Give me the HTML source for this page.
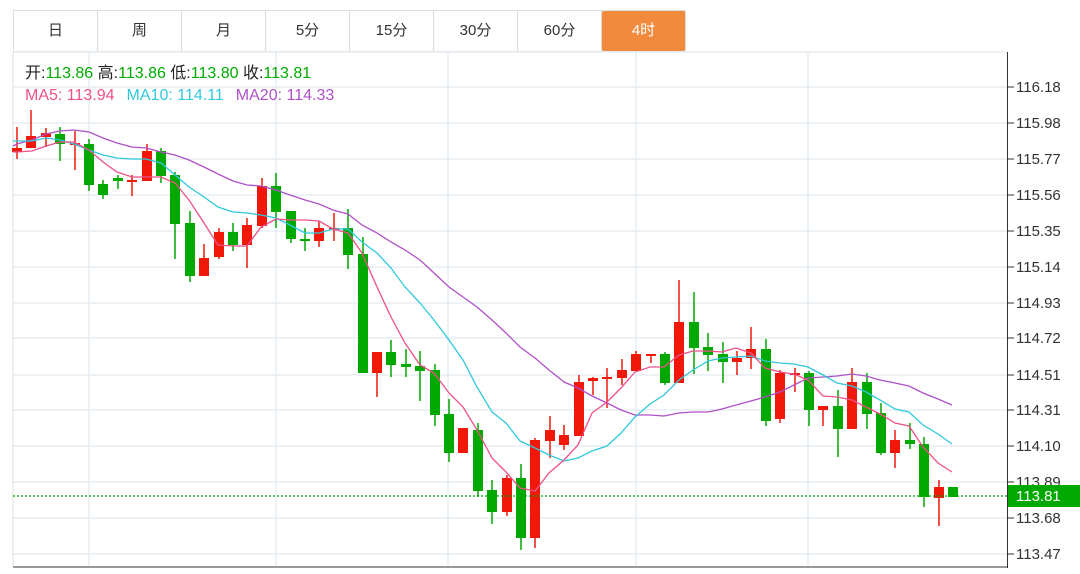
<!DOCTYPE html>
<html><head><meta charset="utf-8"><style>
body{margin:0;background:#fff;width:1080px;height:574px;overflow:hidden;font-family:"Liberation Sans","Noto Sans CJK SC",sans-serif}
.tabs{position:absolute;left:13px;top:10px;height:42px;display:flex;border:1px solid #ddd;border-right:none;box-sizing:border-box}
.tabs div{width:83px;border-right:1px solid #ddd;text-align:center;line-height:40px;font-size:15px;color:#333}
.tabs .on{background:#f28a3e;color:#fff;border-radius:2px}
</style></head><body>
<div class="tabs"><div>日</div><div>周</div><div>月</div><div>5分</div><div>15分</div><div>30分</div><div>60分</div><div class="on">4时</div></div>
<svg width="1080" height="574" style="position:absolute;left:0;top:0" font-family="Liberation Sans, Noto Sans CJK SC, sans-serif">
<g stroke="#e5edf4" stroke-width="1.5">
<line x1="13" x2="1007" y1="52" y2="52"/>
<line x1="13" x2="1007" y1="87" y2="87"/><line x1="13" x2="1007" y1="123" y2="123"/><line x1="13" x2="1007" y1="159" y2="159"/><line x1="13" x2="1007" y1="195" y2="195"/><line x1="13" x2="1007" y1="231" y2="231"/><line x1="13" x2="1007" y1="267" y2="267"/><line x1="13" x2="1007" y1="303" y2="303"/><line x1="13" x2="1007" y1="338" y2="338"/><line x1="13" x2="1007" y1="375" y2="375"/><line x1="13" x2="1007" y1="410" y2="410"/><line x1="13" x2="1007" y1="446" y2="446"/><line x1="13" x2="1007" y1="482" y2="482"/><line x1="13" x2="1007" y1="518" y2="518"/><line x1="13" x2="1007" y1="554" y2="554"/>
<line x1="89" x2="89" y1="52" y2="566"/><line x1="276" x2="276" y1="52" y2="566"/><line x1="448" x2="448" y1="52" y2="566"/><line x1="636" x2="636" y1="52" y2="566"/><line x1="808" x2="808" y1="52" y2="566"/>
</g>
<line x1="13" x2="13" y1="52" y2="566" stroke="#ddd"/>
<line x1="1007.5" x2="1007.5" y1="52" y2="568" stroke="#333"/>
<line x1="13" x2="1007" y1="567" y2="567" stroke="#333"/>
<g stroke="#333"><line x1="1008" x2="1014" y1="87" y2="87"/><line x1="1008" x2="1014" y1="123" y2="123"/><line x1="1008" x2="1014" y1="159" y2="159"/><line x1="1008" x2="1014" y1="195" y2="195"/><line x1="1008" x2="1014" y1="231" y2="231"/><line x1="1008" x2="1014" y1="267" y2="267"/><line x1="1008" x2="1014" y1="303" y2="303"/><line x1="1008" x2="1014" y1="338" y2="338"/><line x1="1008" x2="1014" y1="375" y2="375"/><line x1="1008" x2="1014" y1="410" y2="410"/><line x1="1008" x2="1014" y1="446" y2="446"/><line x1="1008" x2="1014" y1="482" y2="482"/><line x1="1008" x2="1014" y1="518" y2="518"/><line x1="1008" x2="1014" y1="554" y2="554"/></g>
<g font-size="15" fill="#333">
<text x="1016" y="92">116.18</text><text x="1016" y="128">115.98</text><text x="1016" y="164">115.77</text><text x="1016" y="200">115.56</text><text x="1016" y="236">115.35</text><text x="1016" y="272">115.14</text><text x="1016" y="308">114.93</text><text x="1016" y="343">114.72</text><text x="1016" y="380">114.51</text><text x="1016" y="415">114.31</text><text x="1016" y="451">114.10</text><text x="1016" y="487">113.89</text><text x="1016" y="523">113.68</text><text x="1016" y="559">113.47</text>
</g>
<g font-size="16">
<text x="25" y="78" fill="#222">开:<tspan fill="#0a0">113.86</tspan>  高:<tspan fill="#0a0">113.86</tspan>  低:<tspan fill="#0a0">113.80</tspan>  收:<tspan fill="#0a0">113.81</tspan></text>
<text x="25" y="100"><tspan fill="#f0508a">MA5: 113.94</tspan><tspan fill="#30c8dc" dx="12">MA10: 114.11</tspan><tspan fill="#b050c8" dx="12">MA20: 114.33</tspan></text>
</g>
<g stroke="#00a800" stroke-width="1.5">
<line x1="60" x2="60" y1="127" y2="161"/><line x1="89" x2="89" y1="139" y2="191"/><line x1="103" x2="103" y1="180" y2="199"/><line x1="118" x2="118" y1="175" y2="189"/><line x1="161" x2="161" y1="148" y2="183"/><line x1="175" x2="175" y1="172" y2="259"/><line x1="190" x2="190" y1="211" y2="282"/><line x1="233" x2="233" y1="223" y2="251"/><line x1="276" x2="276" y1="173" y2="228"/><line x1="291" x2="291" y1="211" y2="243"/><line x1="305" x2="305" y1="228" y2="251"/><line x1="348" x2="348" y1="209" y2="269"/><line x1="363" x2="363" y1="237" y2="373"/><line x1="391" x2="391" y1="340" y2="377"/><line x1="406" x2="406" y1="349" y2="377"/><line x1="420" x2="420" y1="351" y2="401"/><line x1="435" x2="435" y1="364" y2="426"/><line x1="449" x2="449" y1="399" y2="462"/><line x1="478" x2="478" y1="423" y2="497"/><line x1="492" x2="492" y1="480" y2="524"/><line x1="521" x2="521" y1="464" y2="550"/><line x1="665" x2="665" y1="352" y2="385"/><line x1="694" x2="694" y1="292" y2="374"/><line x1="708" x2="708" y1="333" y2="371"/><line x1="723" x2="723" y1="342" y2="383"/><line x1="766" x2="766" y1="339" y2="426"/><line x1="809" x2="809" y1="371" y2="426"/><line x1="838" x2="838" y1="390" y2="457"/><line x1="867" x2="867" y1="373" y2="429"/><line x1="881" x2="881" y1="403" y2="455"/><line x1="910" x2="910" y1="423" y2="449"/><line x1="924" x2="924" y1="437" y2="507"/>
</g>
<g fill="#00a800">
<rect x="55" y="134" width="10" height="10"/><rect x="84" y="144" width="10" height="41"/><rect x="98" y="184" width="10" height="11"/><rect x="113" y="178" width="10" height="3"/><rect x="156" y="151" width="10" height="25"/><rect x="170" y="175" width="10" height="49"/><rect x="185" y="223" width="10" height="53"/><rect x="228" y="232" width="10" height="13"/><rect x="271" y="186" width="10" height="26"/><rect x="286" y="211" width="10" height="28"/><rect x="300" y="239" width="10" height="2"/><rect x="343" y="228" width="10" height="27"/><rect x="358" y="254" width="10" height="119"/><rect x="386" y="352" width="10" height="13"/><rect x="401" y="364" width="10" height="3"/><rect x="415" y="366" width="10" height="5"/><rect x="430" y="370" width="10" height="45"/><rect x="444" y="414" width="10" height="39"/><rect x="473" y="430" width="10" height="61"/><rect x="487" y="490" width="10" height="22"/><rect x="516" y="478" width="10" height="60"/><rect x="660" y="354" width="10" height="29"/><rect x="689" y="322" width="10" height="26"/><rect x="703" y="347" width="10" height="8"/><rect x="718" y="354" width="10" height="8"/><rect x="761" y="349" width="10" height="72"/><rect x="804" y="373" width="10" height="37"/><rect x="833" y="406" width="10" height="23"/><rect x="862" y="382" width="10" height="32"/><rect x="876" y="413" width="10" height="40"/><rect x="905" y="440" width="10" height="4"/><rect x="919" y="444" width="10" height="53"/><rect x="948" y="487" width="10" height="10"/>
</g>
<g stroke="#f01808" stroke-width="1.5">
<line x1="17" x2="17" y1="127" y2="159"/><line x1="31" x2="31" y1="110" y2="148"/><line x1="46" x2="46" y1="128" y2="147"/><line x1="75" x2="75" y1="131" y2="170"/><line x1="132" x2="132" y1="175" y2="196"/><line x1="147" x2="147" y1="144" y2="181"/><line x1="204" x2="204" y1="244" y2="276"/><line x1="219" x2="219" y1="228" y2="259"/><line x1="247" x2="247" y1="218" y2="268"/><line x1="262" x2="262" y1="178" y2="228"/><line x1="319" x2="319" y1="221" y2="247"/><line x1="334" x2="334" y1="213" y2="241"/><line x1="377" x2="377" y1="352" y2="397"/><line x1="463" x2="463" y1="428" y2="453"/><line x1="507" x2="507" y1="475" y2="516"/><line x1="535" x2="535" y1="438" y2="548"/><line x1="550" x2="550" y1="416" y2="458"/><line x1="564" x2="564" y1="425" y2="450"/><line x1="579" x2="579" y1="375" y2="436"/><line x1="593" x2="593" y1="377" y2="395"/><line x1="607" x2="607" y1="368" y2="408"/><line x1="622" x2="622" y1="359" y2="385"/><line x1="636" x2="636" y1="351" y2="371"/><line x1="651" x2="651" y1="354" y2="363"/><line x1="679" x2="679" y1="280" y2="383"/><line x1="737" x2="737" y1="351" y2="375"/><line x1="751" x2="751" y1="327" y2="369"/><line x1="780" x2="780" y1="370" y2="423"/><line x1="795" x2="795" y1="368" y2="392"/><line x1="823" x2="823" y1="406" y2="426"/><line x1="852" x2="852" y1="368" y2="429"/><line x1="895" x2="895" y1="430" y2="468"/><line x1="939" x2="939" y1="480" y2="526"/>
</g>
<g fill="#f01808">
<rect x="12" y="148" width="10" height="4"/><rect x="26" y="136" width="10" height="12"/><rect x="41" y="133" width="10" height="4"/><rect x="70" y="143" width="10" height="2"/><rect x="127" y="180" width="10" height="2"/><rect x="142" y="151" width="10" height="30"/><rect x="199" y="258" width="10" height="18"/><rect x="214" y="232" width="10" height="25"/><rect x="242" y="225" width="10" height="20"/><rect x="257" y="186" width="10" height="40"/><rect x="314" y="228" width="10" height="13"/><rect x="329" y="228" width="10" height="2"/><rect x="372" y="352" width="10" height="21"/><rect x="458" y="428" width="10" height="25"/><rect x="502" y="478" width="10" height="34"/><rect x="530" y="440" width="10" height="98"/><rect x="545" y="430" width="10" height="11"/><rect x="559" y="435" width="10" height="10"/><rect x="574" y="382" width="10" height="54"/><rect x="588" y="378" width="10" height="3"/><rect x="602" y="377" width="10" height="2"/><rect x="617" y="370" width="10" height="8"/><rect x="631" y="354" width="10" height="17"/><rect x="646" y="354" width="10" height="2"/><rect x="674" y="322" width="10" height="61"/><rect x="732" y="358" width="10" height="4"/><rect x="746" y="349" width="10" height="9"/><rect x="775" y="373" width="10" height="46"/><rect x="790" y="373" width="10" height="2"/><rect x="818" y="406" width="10" height="4"/><rect x="847" y="382" width="10" height="47"/><rect x="890" y="440" width="10" height="13"/><rect x="934" y="487" width="10" height="11"/>
</g>
<g fill="none" stroke-width="1.3">
<polyline stroke="#b050c8" points="13,146 17,144 32,140 46,134 60,131 74,130 89,132 103,138 117,143 132,147 146,148 161,152 175,155 189,160 204,167 218,174 233,181 247,185 261,186 276,190 290,195 305,200 319,204 333,210 348,214 362,225 377,233 391,242 405,250 420,260 434,273 449,287 463,297 477,307 492,320 506,333 520,347 535,358 549,370 564,382 578,388 592,396 607,403 621,410 635,415 650,415 664,416 679,413 693,412 708,412 722,409 736,405 751,401 765,397 780,392 794,385 808,378 823,377 837,376 852,374 866,376 880,380 895,383 909,386 923,393 938,399 952,405"/>
<polyline stroke="#30c8dc" points="13,141 17,141 32,141 46,138 60,140 74,144 89,150 103,155 117,158 132,159 146,159 161,163 175,175 189,187 204,197 218,207 233,212 247,213 261,215 276,218 290,225 305,233 319,233 333,229 348,229 362,242 377,253 391,268 405,287 420,303 434,320 449,340 463,360 477,387 492,412 506,423 520,441 535,448 549,455 564,461 578,458 592,451 607,446 621,433 635,417 650,404 664,395 679,380 693,370 708,361 722,358 736,357 751,356 765,361 780,363 794,364 808,367 823,375 837,383 852,386 866,392 880,400 895,409 909,412 923,425 938,434 952,444"/>
<polyline stroke="#f0508a" points="13,152 17,152 32,151 46,146 60,142 74,142 89,150 103,162 117,172 132,177 146,177 161,177 175,183 189,200 204,223 218,245 233,246 247,246 261,227 276,219 290,220 305,220 319,221 333,229 348,233 362,253 377,287 391,317 405,343 420,365 434,373 449,393 463,407 477,430 492,458 506,472 520,488 535,491 549,473 564,460 578,445 592,413 607,402 621,388 635,372 650,367 664,367 679,355 693,351 708,351 722,352 736,348 751,353 765,368 780,372 794,374 808,380 823,396 837,397 852,400 866,407 880,414 895,423 909,426 923,447 938,463 952,472"/>
</g>
<line x1="13" x2="1007" y1="496" y2="496" stroke="#00a800" stroke-dasharray="2,2" stroke-width="1.2"/>
<rect x="1008" y="485" width="72" height="22" fill="#00a800"/>
<text x="1016" y="501" font-size="15" fill="#fff">113.81</text>
</svg>
</body></html>
